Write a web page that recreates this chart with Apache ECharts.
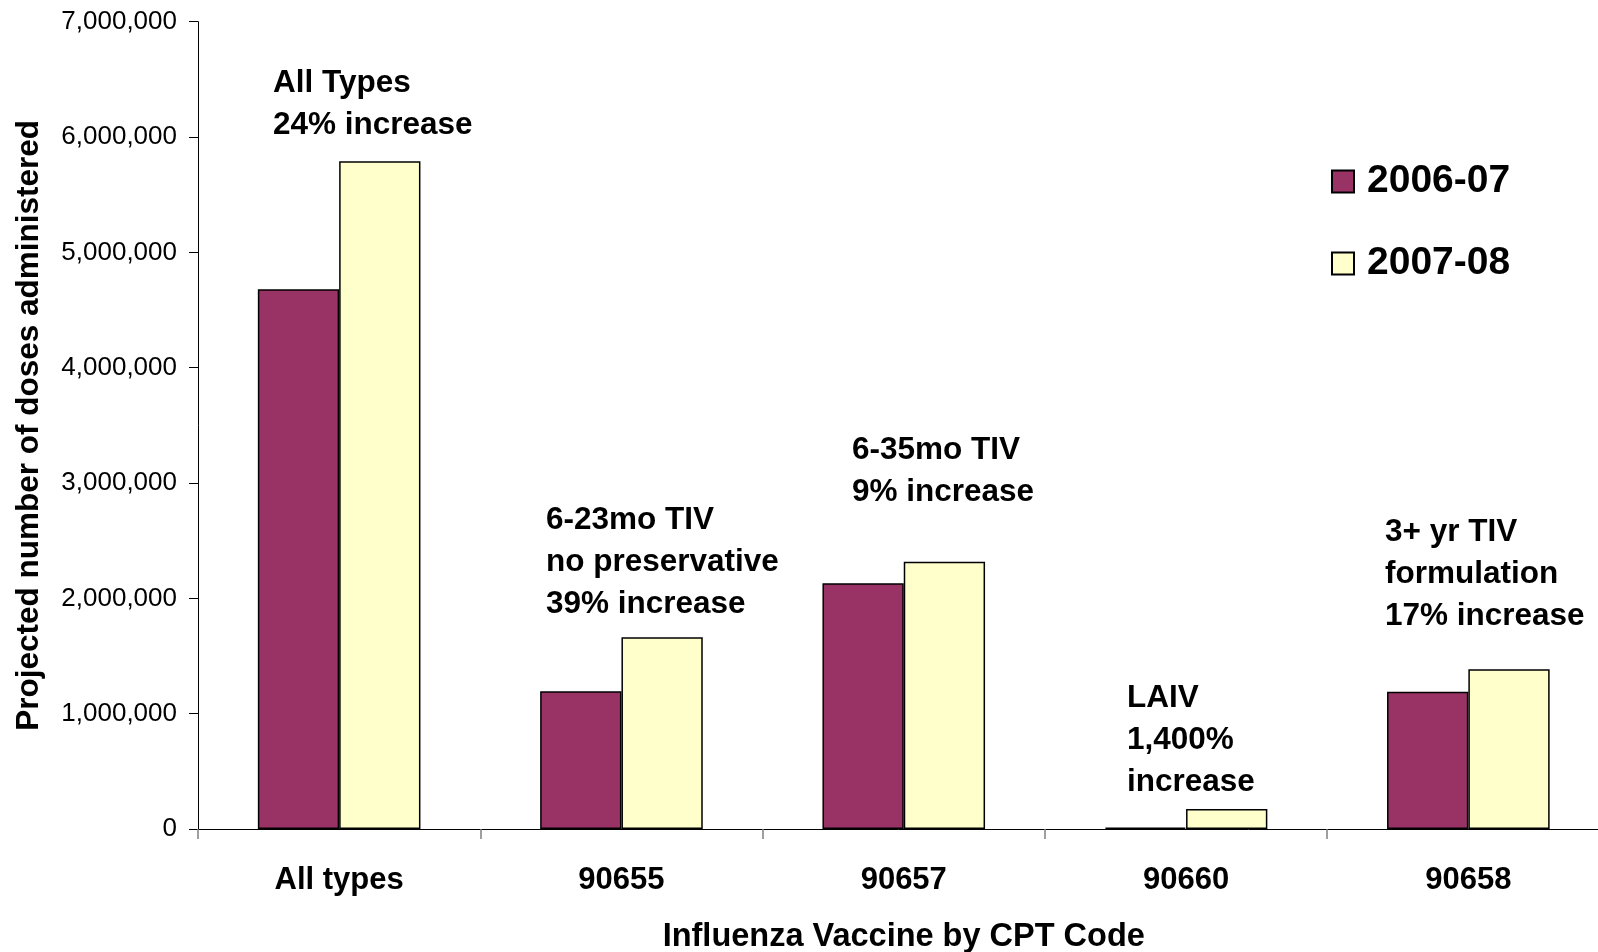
<!DOCTYPE html>
<html>
<head>
<meta charset="utf-8">
<script src="https://cdn.jsdelivr.net/npm/echarts@6/dist/echarts.min.js"></script>
<style>html,body{margin:0;padding:0;background:#fff;}#c{width:1598px;height:952px;}</style>
</head>
<body>
<div id="c"></div>
<script>
const categories = ['All types', '90655', '90657', '90660', '90658'];
const seriesNames = ['2006-07', '2007-08'];
const season0607 = [4680000, 1195000, 2131000, 11500, 1191000];
const season0708 = [5790000, 1663000, 2318000, 173000, 1385000];
const yMin = 0, yMax = 7000000, yInterval = 1000000;
const annotationLines = [
  ['All Types', '24% increase'],
  ['6-23mo TIV', 'no preservative', '39% increase'],
  ['6-35mo TIV', '9% increase'],
  ['LAIV', '1,400%', 'increase'],
  ['3+ yr TIV', 'formulation', '17% increase']
];
const annotationPos = [[273, 62], [546, 499], [852, 429], [1127, 677], [1385, 511]];

const FONT = '"Liberation Sans", Arial, sans-serif';
const chart = echarts.init(document.getElementById('c'), null, {renderer: 'canvas'});

const graphics = annotationLines.map((lines, i) => ({
  type: 'text',
  x: annotationPos[i][0],
  y: annotationPos[i][1],
  style: {
    text: lines.join('\n'),
    fontFamily: FONT,
    fontWeight: 'bold',
    fontSize: 31.5,
    lineHeight: 42,
    fill: '#000',
    textVerticalAlign: 'top'
  }
}));

const fmt = v => String(v).replace(/\B(?=(\d{3})+(?!\d))/g, ',');

chart.setOption({
  animation: false,
  backgroundColor: '#fff',
  textStyle: {fontFamily: FONT},
  grid: {left: 198, top: 21.7, width: 1411.5, bottom: 123, containLabel: false, outerBoundsMode: 'none'},
  legend: {
    orient: 'vertical',
    left: 1326,
    top: 157,
    itemWidth: 22,
    itemHeight: 22,
    itemGap: 43,
    icon: 'rect',
    data: seriesNames,
    textStyle: {fontFamily: FONT, fontSize: 39, fontWeight: 'bold', color: '#000', padding: [0, 0, 0, 8]}
  },
  xAxis: {
    type: 'category',
    data: categories,
    name: 'Influenza Vaccine by CPT Code',
    nameLocation: 'middle',
    nameGap: 92,
    nameTextStyle: {fontFamily: FONT, fontSize: 32.5, fontWeight: 'bold', color: '#000'},
    axisLine: {lineStyle: {color: '#000', width: 1}},
    axisTick: {show: true, length: 10, lineStyle: {color: '#808080', width: 1.5}},
    axisLabel: {fontFamily: FONT, fontSize: 31, fontWeight: 'bold', color: '#000', margin: 36}
  },
  yAxis: {
    type: 'value',
    min: yMin,
    max: yMax,
    interval: yInterval,
    name: 'Projected number of doses administered',
    nameLocation: 'middle',
    nameGap: 153,
    nameTextStyle: {fontFamily: FONT, fontSize: 31.5, fontWeight: 'bold', color: '#000'},
    splitLine: {show: false},
    axisLine: {show: true, lineStyle: {color: '#000', width: 1}},
    axisTick: {show: true, length: 9, lineStyle: {color: '#000', width: 1}},
    axisLabel: {fontFamily: FONT, fontSize: 26, color: '#000', margin: 21, formatter: fmt}
  },
  series: [
    {
      name: seriesNames[0],
      type: 'bar',
      data: season0607,
      barGap: '0%',
      barCategoryGap: '42.4%',
      itemStyle: {color: '#993366', borderColor: '#000', borderWidth: 1.5}
    },
    {
      name: seriesNames[1],
      type: 'bar',
      data: season0708,
      barGap: '0%',
      barCategoryGap: '42.4%',
      itemStyle: {color: '#FFFFCC', borderColor: '#000', borderWidth: 1.5}
    }
  ],
  graphic: graphics
});
</script>
</body>
</html>
